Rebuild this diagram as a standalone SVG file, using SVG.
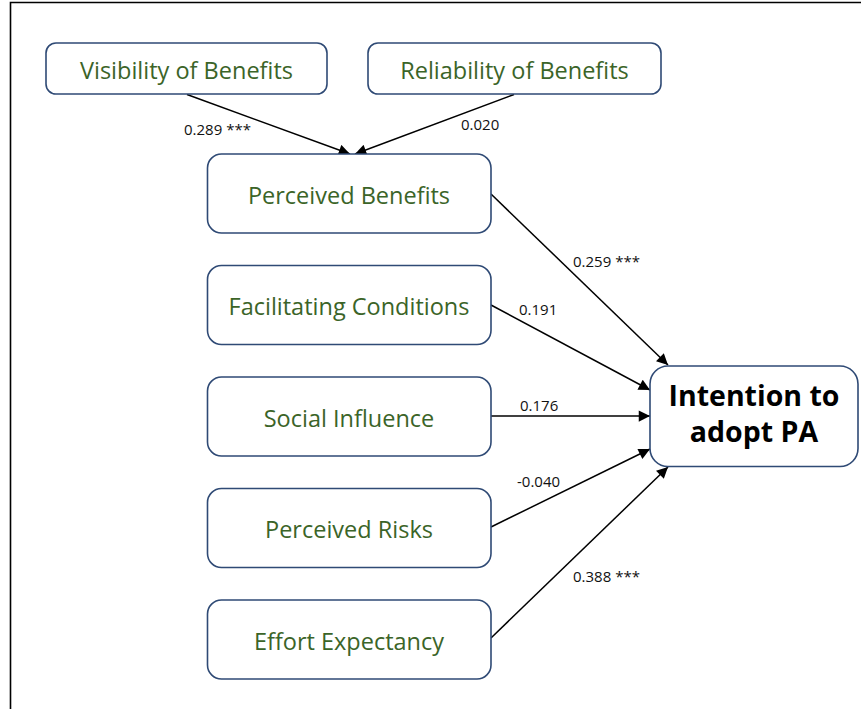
<svg xmlns="http://www.w3.org/2000/svg" width="861" height="709" viewBox="0 0 861 709">
  <style>
    .box { fill: #ffffff; stroke: #2f4a75; stroke-width: 1.6; }
    .lbl { font-family: "Open Sans", "Liberation Sans", sans-serif; font-size: 23.5px; fill: #3b6428; text-anchor: middle; }
    .big { font-family: "Open Sans", "Liberation Sans", sans-serif; font-size: 28.5px; font-weight: bold; fill: #000000; text-anchor: middle; }
    .coef { font-family: "Open Sans", "Liberation Sans", sans-serif; font-size: 15px; fill: #111111; }
    .edge { stroke: #000000; stroke-width: 1.5; fill: none; marker-end: url(#arrow); }
  </style>
  <defs>
    <marker id="arrow" viewBox="0 0 10 10" refX="10" refY="5" markerWidth="8" markerHeight="7.5" markerUnits="strokeWidth" orient="auto">
      <path d="M0,0 L10,5 L0,10 z" fill="#000000"/>
    </marker>
  </defs>
  <rect width="861" height="709" fill="#ffffff"/>
  <!-- frame -->
  <path d="M10.5,709 V2.5 H861" fill="none" stroke="#000000" stroke-width="1.6"/>

  <g id="connectors">
    <line class="edge" x1="187" y1="94.5" x2="350" y2="154"/>
    <line class="edge" x1="514" y1="94.5" x2="355" y2="154"/>
    <line class="edge" x1="491" y1="194" x2="668" y2="365"/>
    <line class="edge" x1="491" y1="305" x2="650" y2="390"/>
    <line class="edge" x1="491" y1="416" x2="650" y2="416"/>
    <line class="edge" x1="491" y1="527" x2="650" y2="449"/>
    <line class="edge" x1="491" y1="638" x2="668" y2="467"/>
    <text class="coef" x="184" y="135">0.289 ***</text>
    <text class="coef" x="461" y="130">0.020</text>
    <text class="coef" x="573" y="267">0.259 ***</text>
    <text class="coef" x="519" y="315">0.191</text>
    <text class="coef" x="520" y="411">0.176</text>
    <text class="coef" x="517" y="487">-0.040</text>
    <text class="coef" x="573" y="582">0.388 ***</text>
  </g>

  <g id="visibility">
    <rect class="box" x="46" y="43" width="281" height="51" rx="10"/>
    <text class="lbl" x="186.5" y="79">Visibility of Benefits</text>
  </g>
  <g id="reliability">
    <rect class="box" x="368" y="43" width="293" height="51" rx="10"/>
    <text class="lbl" x="514.5" y="79">Reliability of Benefits</text>
  </g>
  <g id="perceived-benefits">
    <rect class="box" x="207.5" y="154" width="283.5" height="79" rx="14"/>
    <text class="lbl" x="349" y="203.5">Perceived Benefits</text>
  </g>
  <g id="facilitating-conditions">
    <rect class="box" x="207.5" y="265.5" width="283.5" height="79" rx="14"/>
    <text class="lbl" x="349" y="315">Facilitating Conditions</text>
  </g>
  <g id="social-influence">
    <rect class="box" x="207.5" y="377" width="283.5" height="79" rx="14"/>
    <text class="lbl" x="349" y="426.5">Social Influence</text>
  </g>
  <g id="perceived-risks">
    <rect class="box" x="207.5" y="488.5" width="283.5" height="79" rx="14"/>
    <text class="lbl" x="349" y="538">Perceived Risks</text>
  </g>
  <g id="effort-expectancy">
    <rect class="box" x="207.5" y="600" width="283.5" height="79" rx="14"/>
    <text class="lbl" x="349" y="649.5">Effort Expectancy</text>
  </g>
  <g id="intention">
    <rect class="box" x="650" y="366" width="208" height="100.5" rx="18"/>
    <text class="big" x="754" y="406">Intention to</text>
    <text class="big" x="754" y="442">adopt PA</text>
  </g>
</svg>
